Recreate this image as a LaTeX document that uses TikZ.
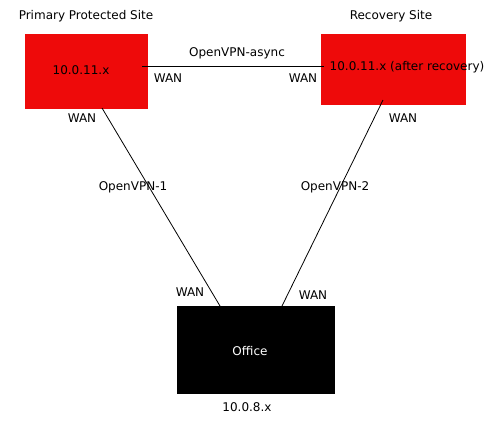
\documentclass[tikz,border=0pt]{standalone}
\usepackage{fontspec}
\setmainfont{DejaVu Sans}
\definecolor{sitered}{HTML}{EE0A0A}
\begin{document}
\begin{tikzpicture}[x=1pt,y=-1pt,
  site/.style={fill=sitered,draw=none,anchor=north west,inner sep=0pt},
  office/.style={fill=black,draw=none,anchor=north west,inner sep=0pt},
  lbl/.style={font=\fontsize{12}{14}\selectfont,inner sep=0pt},
  link/.style={draw=black,line width=0.8pt}]
\useasboundingbox (0,0) rectangle (497,429);
\node[site,minimum width=123pt,minimum height=75pt] (prim) at (25,34) {};
\node[site,minimum width=145pt,minimum height=71pt] (rec) at (321,34) {};
\node[office,minimum width=158pt,minimum height=88pt] (off) at (177,306) {};
\coordinate (h1) at (142,66);
\coordinate (h2) at (324,66);
\coordinate (d1a) at (102,108);
\coordinate (d1b) at (220,306);
\coordinate (d2a) at (383,100);
\coordinate (d2b) at (282,306);
\draw[link] (h1) -- (h2);
\draw[link] (d1a) -- (d1b);
\draw[link] (d2a) -- (d2b);
\node[lbl] (t1) at (86,16) {Primary Protected Site};
\node[lbl] (t2) at (391,16) {Recovery Site};
\node[lbl] (ip1) at (81,70) {10.0.11.x};
\node[lbl] (ip2) at (407,67) {10.0.11.x (after recovery)};
\node[lbl] (async) at (237,53) {OpenVPN-async};
\node[lbl] (w1) at (168,78) {WAN};
\node[lbl] (w2) at (303,78) {WAN};
\node[lbl] (w3) at (82,118) {WAN};
\node[lbl] (w4) at (403,118) {WAN};
\node[lbl] (v1) at (133,187) {OpenVPN-1};
\node[lbl] (v2) at (335,187) {OpenVPN-2};
\node[lbl] (w5) at (190,292) {WAN};
\node[lbl] (w6) at (313,295) {WAN};
\node[lbl,text=white] (offt) at (250,351) {Office};
\node[lbl] (net) at (247,407) {10.0.8.x};
\end{tikzpicture}
\end{document}
